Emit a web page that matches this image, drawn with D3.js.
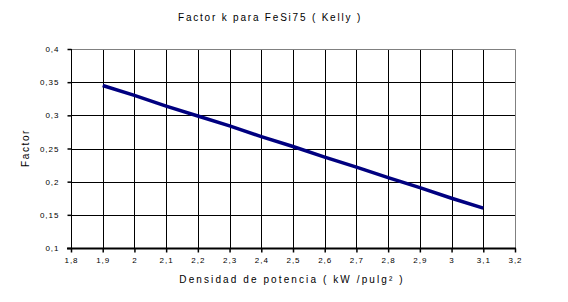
<!DOCTYPE html>
<html>
<head>
<meta charset="utf-8">
<script src="https://cdn.jsdelivr.net/npm/d3@7"></script>
<style>
  body { margin: 0; background: #fff; }
  text { font-family: "Liberation Sans", Arial, sans-serif; fill: #000; }
</style>
</head>
<body>
<svg id="chart" width="568" height="302"></svg>
<script>
// data
var potencia = [1.9, 2.0, 2.1, 2.2, 2.3, 2.4, 2.5, 2.6, 2.7, 2.8, 2.9, 3.0, 3.1];
var factor = [0.345, 0.330, 0.314, 0.299, 0.284, 0.268, 0.253, 0.237, 0.222, 0.206, 0.191, 0.175, 0.160];
var xTicks = [1.8, 1.9, 2.0, 2.1, 2.2, 2.3, 2.4, 2.5, 2.6, 2.7, 2.8, 2.9, 3.0, 3.1, 3.2];
var yTicks = [0.1, 0.15, 0.2, 0.25, 0.3, 0.35, 0.4];

(function () {
    "use strict";
    var svg = d3.select("#chart"),
        left = 71, right = 515, plotTop = 49, bottom = 248;

    var x = d3.scaleLinear().domain([1.8, 3.2]).range([left, right]),
        y = d3.scaleLinear().domain([0.1, 0.4]).range([bottom, plotTop]);

    function fmt(v) {
        return String(+v.toFixed(2)).replace(".", ",");
    }

    //grid lines
    svg.append("g").selectAll("line").data(yTicks.slice(1, -1)).enter().append("line")
        .attr("x1", left).attr("x2", right)
        .attr("y1", function (d) { return Math.round(y(d)) + 0.5; })
        .attr("y2", function (d) { return Math.round(y(d)) + 0.5; })
        .attr("stroke", "#000");
    svg.append("g").selectAll("line").data(xTicks.slice(1, -1)).enter().append("line")
        .attr("y1", plotTop).attr("y2", bottom)
        .attr("x1", function (d) { return Math.round(x(d)) + 0.5; })
        .attr("x2", function (d) { return Math.round(x(d)) + 0.5; })
        .attr("stroke", "#000");

    //plot border top/right grey
    svg.append("path")
        .attr("d", "M" + left + "," + (plotTop + 0.5) + "H" + (right + 0.5) + "V" + bottom)
        .attr("fill", "none").attr("stroke", "#808080");

    //axes
    var yAxis = svg.append("g")
        .attr("transform", "translate(" + (left + 0.5) + ",0)")
        .call(d3.axisLeft(y).tickValues(yTicks).tickSize(4).tickPadding(8).tickFormat(fmt));
    var xAxis = svg.append("g")
        .attr("transform", "translate(0," + (bottom + 0.5) + ")")
        .call(d3.axisBottom(x).tickValues(xTicks).tickSize(4).tickPadding(5).tickFormat(fmt));

    [yAxis, xAxis].forEach(function (ax) {
        ax.select(".domain").remove();
        ax.selectAll(".tick line").attr("stroke", "#000").attr("stroke-width", 1.5);
        ax.selectAll("text").style("font-size", "8px").style("letter-spacing", "1px")
            .style("font-family", "'Liberation Sans', Arial, sans-serif");
    });
    svg.append("line").attr("x1", left + 0.5).attr("x2", left + 0.5)
        .attr("y1", plotTop).attr("y2", bottom).attr("stroke", "#000");
    svg.append("line").attr("x1", left - 4).attr("x2", right + 1)
        .attr("y1", bottom + 0.5).attr("y2", bottom + 0.5)
        .attr("stroke", "#000").attr("stroke-width", 2);

    //the series
    var line = d3.line()
        .x(function (d, i) { return x(potencia[i]); })
        .y(function (d) { return y(d); });
    svg.append("path").datum(factor)
        .attr("d", line)
        .attr("fill", "none")
        .attr("stroke", "#000080")
        .attr("stroke-width", 3.5);

    //titles
    svg.append("text").attr("x", 270).attr("y", 21).attr("text-anchor", "middle")
        .style("font-size", "10px").style("letter-spacing", "1.8px")
        .text("Factor k para FeSi75 ( Kelly )");
    svg.append("text").attr("transform", "translate(29,148) rotate(-90)")
        .attr("text-anchor", "middle")
        .style("font-size", "10px").style("letter-spacing", "1.6px")
        .text("Factor");
    svg.append("text").attr("x", 292).attr("y", 283).attr("text-anchor", "middle")
        .style("font-size", "10px").style("letter-spacing", "2.1px")
        .text("Densidad de potencia ( kW /pulg² )");
}());
</script>
</body>
</html>
